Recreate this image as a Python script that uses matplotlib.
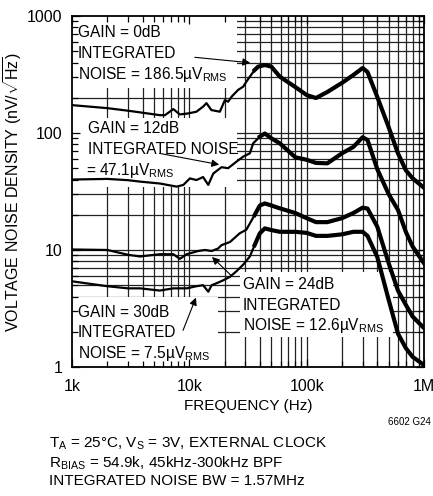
import numpy as np
import matplotlib
matplotlib.use('Agg')
import matplotlib.pyplot as plt
from matplotlib.patches import Rectangle
from matplotlib.ticker import FixedLocator, NullFormatter

plt.rcParams['font.family'] = ['Liberation Sans', 'DejaVu Sans']
plt.rcParams['mathtext.fontset'] = 'custom'
plt.rcParams['mathtext.rm'] = 'Liberation Sans'
plt.rcParams['mathtext.it'] = 'Liberation Sans'
plt.rcParams['mathtext.default'] = 'regular'

# noise density readings (Hz, nV/rtHz)
f_0db = [1000, 2000, 3000, 3800, 5600, 6200, 7300, 8300, 9800, 11500, 13100, 14000, 15400,
         18200, 20100, 21400, 23000, 26000, 28800, 30600, 32800, 36000, 38600, 44000, 50000,
         59000, 80000, 100000, 120000, 150000, 200000, 250000, 300000, 330000, 400000,
         500000, 600000, 700000, 800000, 1000000]
v_0db = [173, 163, 155, 150, 142, 142, 160, 144, 147, 152, 168, 180, 157,
         152, 191, 185, 205, 233, 249, 274, 303, 345, 369, 381, 369,
         303, 247, 211, 199, 224, 268, 313, 359, 332, 203,
         112, 67, 48, 41, 34]

f_12db = [1000, 2000, 3000, 3800, 5600, 7800, 8900, 10100, 11500, 13100, 14500, 16000,
          18800, 21400, 25300, 28800, 32800, 35000, 39900, 44000, 50000, 59000, 80000,
          100000, 120000, 150000, 200000, 250000, 300000, 330000, 400000, 500000, 600000,
          700000, 800000, 1000000]
v_12db = [40, 40.5, 39.5, 38.4, 37, 34.8, 36, 40.9, 39.6, 42, 36, 45,
          51, 50, 57, 62.8, 67, 81.6, 93, 99, 90, 81.6, 62,
          59, 55.5, 55, 67, 76, 92, 87, 49, 30, 22,
          14.3, 10.7, 7.7]

f_24db = [1000, 2000, 3000, 3800, 5600, 7300, 8300, 9500, 11900, 13600, 15500, 17600,
          18800, 22200, 26900, 30600, 36000, 39900, 44000, 50000, 59000, 80000, 100000,
          120000, 150000, 200000, 250000, 300000, 330000, 400000, 500000, 600000, 700000,
          800000, 1000000]
v_24db = [10.1, 10, 9.1, 8.8, 9.2, 9.2, 8.4, 9.2, 9.8, 10, 9.8, 10.3,
          11, 11.7, 13.9, 14.9, 19.9, 24, 25, 24, 22.7, 20.7, 18.7,
          17.3, 17.3, 18.7, 20.7, 23, 22.6, 15.8, 7.7, 4.5, 3.4,
          2.7, 2.15]

f_30db = [1000, 2000, 3000, 3800, 5600, 7300, 9500, 11500, 13100, 14500, 15500, 17100,
          19400, 22200, 25300, 28800, 32800, 36000, 39900, 44000, 50000, 59000, 80000,
          100000, 120000, 150000, 200000, 250000, 300000, 330000, 400000, 500000, 600000,
          700000, 800000, 1000000]
v_30db = [5.4, 4.9, 4.7, 4.7, 4.5, 4.7, 4.7, 4.9, 5.0, 4.4, 5.0, 5.2,
          5.5, 5.9, 6.6, 7.5, 8.8, 11, 13.9, 15.3, 14.8, 14.3, 14.3,
          14, 13.2, 13.2, 13.6, 14.3, 14.3, 13.2, 8.7, 3.75, 1.93,
          1.45, 1.22, 1.04]

curves = [(f_0db, v_0db), (f_12db, v_12db), (f_24db, v_24db), (f_30db, v_30db)]

x_ticks = [1e3, 1e4, 1e5, 1e6]
x_ticklabels = ['1k', '10k', '100k', '1M']
y_ticks = [1, 10, 100, 1000]
y_ticklabels = ['1', '10', '100', '1000']

fig = plt.figure(figsize=(4.33, 4.96), dpi=100)
ax = fig.add_axes([0.1663, 0.2601, 0.8129, 0.7077])
ax.set_xscale('log')
ax.set_yscale('log')
ax.set_xlim(1e3, 1e6)
ax.set_ylim(1, 1000)

# datasheet grid, drawn under the white label boxes
grid_x = [m * 10 ** d for d in range(3, 6) for m in range(1, 10)][1:]
grid_y = [m * 10 ** d for d in range(0, 3) for m in range(1, 10)][1:]
ax.vlines(grid_x, 1, 1000, colors='#222222', lw=0.9, zorder=0.8)
ax.hlines(grid_y, 1e3, 1e6, colors='#222222', lw=0.9, zorder=0.8)

# white boxes behind the annotations (axes fraction)
for x0, y0, w, h in [(0, 0.795, 0.469, 0.205), (0, 0.513, 0.469, 0.196),
                     (0.477, 0.085, 0.435, 0.186), (0, 0, 0.415, 0.199)]:
    ax.add_patch(Rectangle((x0, y0), w, h, transform=ax.transAxes,
                           facecolor='white', edgecolor='none', zorder=1))

for f, v in curves:
    f = np.array(f, dtype=float)
    v = np.array(v, dtype=float)
    ax.plot(f, v, color='black', lw=1.6, zorder=3, solid_joinstyle='round')
    hi = f >= 36000
    ax.plot(f[hi], v[hi], color='black', lw=3.0, zorder=3, solid_joinstyle='round')

ax.xaxis.set_major_locator(FixedLocator(x_ticks))
ax.set_xticklabels(x_ticklabels)
ax.yaxis.set_major_locator(FixedLocator(y_ticks))
ax.set_yticklabels(y_ticklabels)
ax.xaxis.set_minor_locator(FixedLocator(grid_x))
ax.yaxis.set_minor_locator(FixedLocator(grid_y))
ax.xaxis.set_minor_formatter(NullFormatter())
ax.yaxis.set_minor_formatter(NullFormatter())
ax.tick_params(which='both', direction='in', top=True, right=True, width=0.9)
ax.tick_params(which='major', length=6)
ax.tick_params(which='minor', length=4)
ax.tick_params(axis='x', which='major', pad=9, labelsize=11.5)
ax.tick_params(axis='y', which='major', pad=7, labelsize=11.5)
for s in ax.spines.values():
    s.set_linewidth(1.3)

ax.set_xlabel('FREQUENCY (Hz)', fontsize=11, labelpad=3)
ax.set_ylabel(r'VOLTAGE NOISE DENSITY (nV/$\sqrt{Hz}$)', fontsize=11.5, labelpad=2)

fs = 11.2
txt = dict(transform=ax.transAxes, fontsize=fs, va='baseline', ha='left', zorder=4)
ax.text(0.017, 0.940, 'GAIN = 0dB', **txt)
ax.text(0.017, 0.880, 'INTEGRATED', **txt)
ax.text(0.017, 0.821, r'NOISE = 186.5µV$_{RMS}$', **txt)
ax.text(0.045, 0.667, 'GAIN = 12dB', **txt)
ax.text(0.045, 0.607, 'INTEGRATED NOISE', **txt)
ax.text(0.040, 0.547, r'= 47.1µV$_{RMS}$', **txt)
ax.text(0.486, 0.222, 'GAIN = 24dB', **txt)
ax.text(0.486, 0.162, 'INTEGRATED', **txt)
ax.text(0.486, 0.105, r'NOISE = 12.6µV$_{RMS}$', **txt)
ax.text(0.017, 0.142, 'GAIN = 30dB', **txt)
ax.text(0.017, 0.085, 'INTEGRATED', **txt)
ax.text(0.017, 0.026, r'NOISE = 7.5µV$_{RMS}$', **txt)

arrow = dict(arrowstyle='-|>', color='black', lw=0.8, mutation_scale=11)
for start, end in [((0.341, 0.883), (0.514, 0.866)), ((0.241, 0.610), (0.426, 0.575)),
                   ((0.457, 0.256), (0.392, 0.319)), ((0.3125, 0.097), (0.355, 0.205))]:
    ax.annotate('', xy=end, xytext=start, xycoords='axes fraction',
                arrowprops=arrow, zorder=4)

fig.text(0.995, 0.149, '6602 G24', fontsize=7, ha='right', va='center')
fig.text(0.113, 0.097, r'T$_A$ = 25°C, V$_S$ = 3V, EXTERNAL CLOCK', fontsize=11)
fig.text(0.113, 0.058, r'R$_{BIAS}$ = 54.9k, 45kHz-300kHz BPF', fontsize=11)
fig.text(0.113, 0.022, 'INTEGRATED NOISE BW = 1.57MHz', fontsize=11)

fig.savefig('out.png', dpi=100)
